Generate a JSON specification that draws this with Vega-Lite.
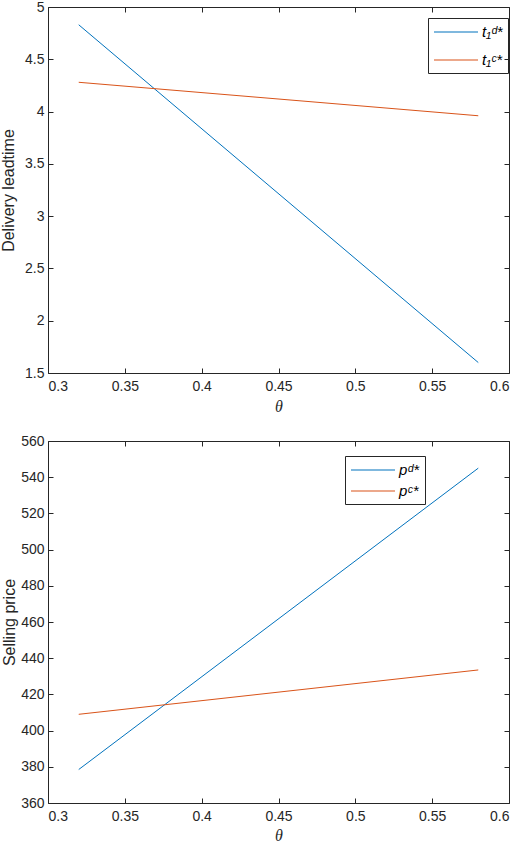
{
  "$schema": "https://vega.github.io/schema/vega-lite/v6.json",
  "background": "white",
  "padding": {"left": 0, "top": 0, "right": 8, "bottom": 0},
  "datasets": {
    "leadtime": [
      {"theta": 0.32, "value": 4.83, "series": "t₁ᵈ*"},
      {"theta": 0.58, "value": 1.60, "series": "t₁ᵈ*"},
      {"theta": 0.32, "value": 4.28, "series": "t₁ᶜ*"},
      {"theta": 0.58, "value": 3.96, "series": "t₁ᶜ*"}
    ],
    "price": [
      {"theta": 0.32, "value": 378.5, "curve": "pᵈ*"},
      {"theta": 0.58, "value": 545.0, "curve": "pᵈ*"},
      {"theta": 0.32, "value": 409.0, "curve": "pᶜ*"},
      {"theta": 0.58, "value": 433.5, "curve": "pᶜ*"}
    ]
  },
  "config": {
    "font": "Liberation Sans",
    "view": {"stroke": null},
    "axis": {
      "grid": false,
      "domainColor": "#262626",
      "tickColor": "#262626",
      "labelColor": "#262626",
      "titleColor": "#262626",
      "labelFontSize": 14,
      "titleFontSize": 16,
      "titleFontWeight": "normal",
      "tickSize": -5,
      "labelPadding": 9
    },
    "axisX": {"labelPadding": 11},
    "legend": {
      "labelFont": "Liberation Sans",
      "labelFontStyle": "italic",
      "labelFontSize": 15,
      "labelColor": "#000000",
      "symbolType": "M-1,0H4.5",
      "symbolSize": 256,
      "symbolStrokeWidth": 1.2,
      "labelOffset": 31,
      "strokeColor": "#262626",
      "padding": 5,
      "title": null
    }
  },
  "resolve": {"scale": {"color": "independent"}, "legend": {"color": "independent"}},
  "spacing": 20,
  "vconcat": [
    {
      "width": 461,
      "height": 366,
      "data": {"name": "leadtime"},
      "layer": [
        {
          "mark": {"type": "line", "strokeWidth": 1},
          "encoding": {
            "x": {
              "field": "theta", "type": "quantitative",
              "scale": {"domain": [0.3, 0.6], "nice": false, "zero": false},
              "axis": {"values": [0.3, 0.35, 0.4, 0.45, 0.5, 0.55, 0.6], "format": "~g", "title": "θ", "titleFont": "Liberation Serif", "titleFontStyle": "italic", "titlePadding": 5}
            },
            "y": {
              "field": "value", "type": "quantitative",
              "scale": {"domain": [1.5, 5], "nice": false, "zero": false},
              "axis": {"values": [1.5, 2, 2.5, 3, 3.5, 4, 4.5, 5], "format": "~g", "title": "Delivery leadtime", "titlePadding": 8}
            },
            "color": {
              "field": "series", "type": "nominal",
              "scale": {"domain": ["t₁ᵈ*", "t₁ᶜ*"], "range": ["#0072BD", "#D95319"]},
              "legend": {"orient": "none", "legendX": 380, "legendY": 11, "rowPadding": 11}
            }
          }
        },
        {
          "mark": {"type": "line", "opacity": 0},
          "encoding": {
            "x": {
              "field": "theta", "type": "quantitative",
              "scale": {"domain": [0.3, 0.6], "nice": false, "zero": false},
              "axis": {"orient": "top", "labels": false, "title": null, "values": [0.3, 0.35, 0.4, 0.45, 0.5, 0.55, 0.6]}
            },
            "y": {
              "field": "value", "type": "quantitative",
              "scale": {"domain": [1.5, 5], "nice": false, "zero": false},
              "axis": {"orient": "right", "labels": false, "title": null, "values": [1.5, 2, 2.5, 3, 3.5, 4, 4.5, 5]}
            }
          }
        }
      ],
      "resolve": {"axis": {"x": "independent", "y": "independent"}}
    },
    {
      "width": 461,
      "height": 362,
      "data": {"name": "price"},
      "layer": [
        {
          "mark": {"type": "line", "strokeWidth": 1},
          "encoding": {
            "x": {
              "field": "theta", "type": "quantitative",
              "scale": {"domain": [0.3, 0.6], "nice": false, "zero": false},
              "axis": {"values": [0.3, 0.35, 0.4, 0.45, 0.5, 0.55, 0.6], "format": "~g", "title": "θ", "titleFont": "Liberation Serif", "titleFontStyle": "italic", "titlePadding": 4}
            },
            "y": {
              "field": "value", "type": "quantitative",
              "scale": {"domain": [360, 560], "nice": false, "zero": false},
              "axis": {"values": [360, 380, 400, 420, 440, 460, 480, 500, 520, 540, 560], "title": "Selling price", "titlePadding": 3}
            },
            "color": {
              "field": "curve", "type": "nominal",
              "scale": {"domain": ["pᵈ*", "pᶜ*"], "range": ["#0072BD", "#D95319"]},
              "legend": {"orient": "none", "legendX": 297, "legendY": 15, "rowPadding": 4}
            }
          }
        },
        {
          "mark": {"type": "line", "opacity": 0},
          "encoding": {
            "x": {
              "field": "theta", "type": "quantitative",
              "scale": {"domain": [0.3, 0.6], "nice": false, "zero": false},
              "axis": {"orient": "top", "labels": false, "title": null, "values": [0.3, 0.35, 0.4, 0.45, 0.5, 0.55, 0.6]}
            },
            "y": {
              "field": "value", "type": "quantitative",
              "scale": {"domain": [360, 560], "nice": false, "zero": false},
              "axis": {"orient": "right", "labels": false, "title": null, "values": [360, 380, 400, 420, 440, 460, 480, 500, 520, 540, 560]}
            }
          }
        }
      ],
      "resolve": {"axis": {"x": "independent", "y": "independent"}}
    }
  ]
}
